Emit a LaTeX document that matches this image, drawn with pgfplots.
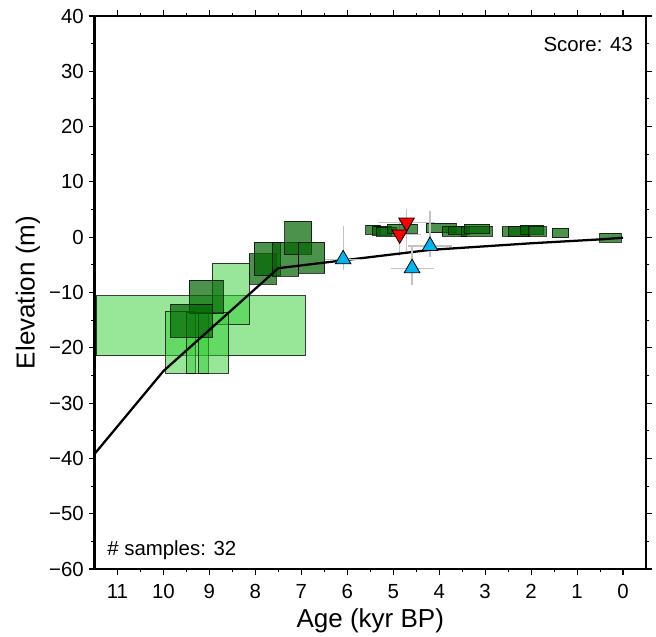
\documentclass[border=0pt]{standalone}
\usepackage{pgfplots}
\pgfplotsset{compat=1.18}
\usepackage{fontspec}
\setmainfont{Liberation Sans}
\definecolor{lightbox}{RGB}{50,205,50}
\definecolor{darkbox}{RGB}{0,100,0}
\definecolor{triblue}{RGB}{0,180,240}
\definecolor{errgray}{RGB}{195,195,195}
\newcommand{\lbox}[4]{\addplot[fill=lightbox, fill opacity=0.5, draw=black, draw opacity=0.75, line width=0.6pt] coordinates {(#1,#3) (#2,#3) (#2,#4) (#1,#4)} -- cycle;}
\newcommand{\dbox}[4]{\addplot[fill=darkbox, fill opacity=0.7, draw=black, draw opacity=0.75, line width=0.6pt] coordinates {(#1,#3) (#2,#3) (#2,#4) (#1,#4)} -- cycle;}
\begin{document}
\begin{tikzpicture}
\begin{axis}[
  scale only axis, width=413.6pt, height=414.75pt,
  x dir=reverse, xmin=-0.5, xmax=11.5, ymin=-60, ymax=40,
  xtick={0,1,...,11}, ytick={-60,-50,...,40},
  yticklabels={−60,−50,−40,−30,−20,−10,0,10,20,30,40},
  minor x tick num=1, minor y tick num=1,
  tick align=outside, xtick pos=both, ytick pos=both,
  xticklabel pos=lower, yticklabel pos=left,
  major tick length=4.5pt, minor tick length=2.6pt,
  every tick/.style={black, line width=0.8pt},
  axis line style={line width=2.2pt},
  axis on top,
  ticklabel style={font=\fontsize{15.3}{17}\selectfont},
  xticklabel style={yshift=-3.5pt},
  /pgf/number format/assume math mode=true,
  xlabel={Age (kyr BP)}, ylabel={Elevation (m)},
  label style={font=\fontsize{19.5}{22}\selectfont},
  xlabel style={yshift=-0.5pt},
  clip=true,
]
% light green boxes
\lbox{11.47}{6.91}{-21.4}{-10.6}
\lbox{8.94}{8.13}{-15.75}{-4.7}
\lbox{9.95}{9.30}{-24.6}{-13.4}
\lbox{9.51}{9.03}{-24.6}{-13.6}
\lbox{9.24}{8.58}{-24.6}{-13.6}
% red limiting points with error bars
\addplot[only marks, mark=triangle*, mark size=6.75pt, mark options={rotate=180, fill=red, draw=black, line width=0.6pt},
  error bars/.cd, x dir=both, x explicit, y dir=both, y explicit,
  error bar style={errgray, line width=0.9pt}, error mark options={errgray, mark size=4pt, line width=0.9pt}]
  coordinates {(4.71,2.65) += (0.5,1.5) -= (0.5,4.5)
               (4.86,0.5) += (0.35,2) -= (0.35,3)};
% dark green boxes
\dbox{9.44}{8.70}{-13.8}{-7.8}
\dbox{9.84}{8.93}{-18.1}{-12.1}
\dbox{8.13}{7.55}{-8.5}{-3.0}
\dbox{8.03}{7.45}{-6.9}{-0.9}
\dbox{7.63}{7.06}{-7.0}{-0.9}
\dbox{7.36}{6.77}{-3.1}{2.9}
\dbox{7.06}{6.49}{-6.5}{-0.9}
\dbox{5.60}{5.29}{0.53}{2.2}
\dbox{5.45}{5.05}{0.4}{2.0}
\dbox{5.37}{4.93}{0.22}{1.79}
\dbox{5.13}{4.48}{0.7}{2.39}
\dbox{4.28}{3.63}{0.8}{2.5}
\dbox{3.94}{3.40}{0.22}{1.9}
\dbox{3.80}{3.35}{0.5}{2.0}
\dbox{3.52}{2.85}{0.22}{2.0}
\dbox{3.45}{2.90}{0.7}{2.3}
\dbox{2.63}{2.03}{0.22}{1.9}
\dbox{2.50}{2.05}{0.22}{1.9}
\dbox{2.24}{1.74}{0.5}{2.2}
\dbox{2.05}{1.67}{0.22}{1.9}
\dbox{1.54}{1.18}{-0.1}{1.6}
\dbox{0.51}{0.04}{-0.9}{0.7}
% model curve
\addplot[black, line width=1.7pt] coordinates {(11.5,-39.2) (10.0,-24.2) (7.5,-5.6) (6.4,-4.5) (4.2,-2.3) (2.0,-1.1) (0.5,-0.4) (0,-0.1)};
% blue limiting points
\addplot[only marks, mark=triangle*, mark size=6.75pt, mark options={fill=triblue, draw=black, line width=0.6pt},
  error bars/.cd, x dir=both, x explicit, y dir=both, y explicit,
  error bar style={errgray, line width=0.9pt}, error mark options={errgray, mark size=4pt, line width=0.9pt}]
  coordinates {(6.09,-4.0) += (0.27,5.0) -= (0.27,1.0)
               (4.20,-1.6) += (0.36,5.4) -= (0.36,1.0)
               (4.59,-5.6) += (0.35,3.2) -= (0.35,2.0)};
\node[anchor=base east, inner sep=0pt, font=\fontsize{15.3}{17}\selectfont] at (rel axis cs:1,1) [xshift=-9.75pt, yshift=-27pt] {Score: 43};
\node[anchor=base west, inner sep=0pt, font=\fontsize{15.3}{17}\selectfont] at (rel axis cs:0,0) [xshift=9.4pt, yshift=9.75pt] {\# samples: 32};
\end{axis}
\pgfresetboundingbox
\path[use as bounding box] ([xshift=-70.9pt,yshift=-51pt]current axis.south west) rectangle ([xshift=7.5pt,yshift=12pt]current axis.north east);
\end{tikzpicture}
\end{document}
